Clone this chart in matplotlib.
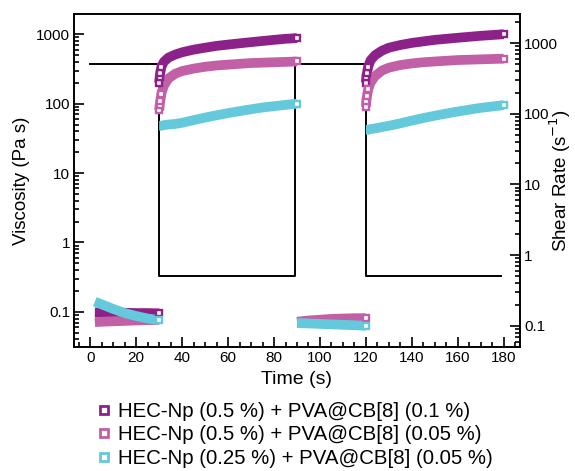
import matplotlib
matplotlib.use("Agg")
import matplotlib.pyplot as plt
from matplotlib.ticker import LogLocator, NullFormatter, MultipleLocator
from matplotlib.lines import Line2D

plt.rcParams['font.family'] = ['Liberation Sans', 'DejaVu Sans']

purple = '#8C2289'
pink = '#C160A6'
cyan = '#64C9DA'

labels = ['HEC-Np (0.5 %) + PVA@CB[8] (0.1 %)',
          'HEC-Np (0.5 %) + PVA@CB[8] (0.05 %)',
          'HEC-Np (0.25 %) + PVA@CB[8] (0.05 %)']

# interval 1 (low shear, 0-30 s)
t1 = [2, 5, 10, 15, 20, 25, 30]
p1_dark = [0.098, 0.098, 0.097, 0.097, 0.096, 0.096, 0.095]
p1_pink = [0.071, 0.072, 0.073, 0.074, 0.075, 0.076, 0.076]
p1_cyan = [0.140, 0.128, 0.110, 0.096, 0.087, 0.080, 0.076]

# interval 2 (high shear, 30-90 s)
t2 = [30, 30.2, 30.5, 31, 32, 34, 37, 40, 45, 50, 55, 60, 65, 70, 75, 80, 85, 90]
p2_dark = [200, 240, 280, 340, 400, 460, 510, 550, 600, 640, 680, 710, 740, 770, 800, 830, 860, 880]
p2_pink = [80, 95, 110, 140, 180, 230, 270, 295, 320, 340, 355, 365, 375, 385, 390, 395, 400, 405]
p2_cyan = [48, 48, 48, 48, 49, 50, 51, 53, 58, 63, 68, 73, 78, 83, 88, 92, 96, 100]

# interval 3 (low shear, 90-120 s)
t3 = [90, 95, 100, 105, 110, 115, 120]
p3_pink = [0.072, 0.075, 0.077, 0.079, 0.080, 0.081, 0.081]
p3_cyan = [0.069, 0.068, 0.067, 0.066, 0.065, 0.064, 0.063]

# interval 4 (high shear, 120-180 s)
t4 = [120, 120.2, 120.5, 121, 122, 124, 127, 130, 135, 140, 145, 150, 155, 160, 165, 170, 175, 180]
p4_dark = [200, 240, 280, 340, 420, 500, 580, 640, 700, 750, 790, 830, 860, 890, 920, 950, 975, 1000]
p4_pink = [90, 110, 130, 160, 200, 250, 300, 330, 360, 380, 395, 405, 415, 425, 430, 435, 440, 445]
p4_cyan = [42, 42, 42, 42, 43, 44, 46, 48, 52, 57, 62, 67, 72, 77, 82, 87, 91, 95]

# shear rate steps
t_shear = [0, 30, 30, 89, 89, 120, 120, 179]
rate = [500, 500, 0.5, 0.5, 500, 500, 0.5, 0.5]

fig = plt.figure(figsize=(5.75, 4.71), dpi=100)
ax = fig.add_axes([0.129, 0.263, 0.775, 0.707])
ax2 = ax.twinx()

ax2.plot(t_shear, rate, color='black', lw=1.4, zorder=1)

def band(t, y, c, marks):
    ax.plot(t, y, color=c, lw=7, solid_capstyle='butt', zorder=2)
    ax.plot(t, y, ls='none', marker='s', ms=5, mew=1.7, mec=c, mfc='white',
            markevery=marks, zorder=3)

start_marks = [0, 1, 2, 3, -1]
band(t1, p1_dark, purple, [-1])
band(t1, p1_pink, pink, [])
band(t1, p1_cyan, cyan, [-1])
band(t2, p2_dark, purple, start_marks)
band(t2, p2_pink, pink, start_marks)
band(t2, p2_cyan, cyan, [-1])
band(t3, p3_pink, pink, [-1])
band(t3, p3_cyan, cyan, [-1])
band(t4, p4_dark, purple, start_marks)
band(t4, p4_pink, pink, start_marks)
band(t4, p4_cyan, cyan, [-1])

ax.set_zorder(ax2.get_zorder() + 1)
ax.patch.set_visible(False)

ax.set_yscale('log')
ax2.set_yscale('log')
ax.set_ylim(0.031, 1950)
ax2.set_ylim(0.05, 2570)
ax.set_xlim(-7, 187)
ax.xaxis.set_major_locator(MultipleLocator(20))
ax.xaxis.set_minor_locator(MultipleLocator(5))

for a in (ax, ax2):
    a.yaxis.set_major_locator(LogLocator(base=10))
    a.yaxis.set_minor_locator(LogLocator(base=10, subs=range(2, 10)))
    a.yaxis.set_minor_formatter(NullFormatter())
    a.tick_params(which='both', direction='in', labelsize=11, width=1.2, pad=3)
    a.tick_params(which='major', length=7)
    a.tick_params(which='minor', length=3.5)
    for s in a.spines.values():
        s.set_linewidth(1.2)

ax.tick_params(top=False, which='both')
ax.yaxis.set_major_formatter(plt.FuncFormatter(lambda v, p: '%g' % v))
ax2.yaxis.set_major_formatter(plt.FuncFormatter(lambda v, p: '%g' % v))

ax.set_xlabel('Time (s)', fontsize=14, labelpad=4)
ax.set_ylabel('Viscosity (Pa s)', fontsize=13.5, labelpad=4)
ax2.set_ylabel('Shear Rate (s$^{-1}$)', fontsize=13.5)
ax2.yaxis.set_label_coords(1.062, 0.5)

handles = [Line2D([], [], ls='none', marker='s', ms=6, mew=2, mec=c, mfc='white')
           for c in (purple, pink, cyan)]
fig.legend(handles, labels, loc='upper left', bbox_to_anchor=(0.166, 0.147),
           frameon=False, fontsize=14.7, handletextpad=0.3, labelspacing=0.22,
           handlelength=0.8, borderpad=0, borderaxespad=0)

fig.savefig('out.png', dpi=100)
